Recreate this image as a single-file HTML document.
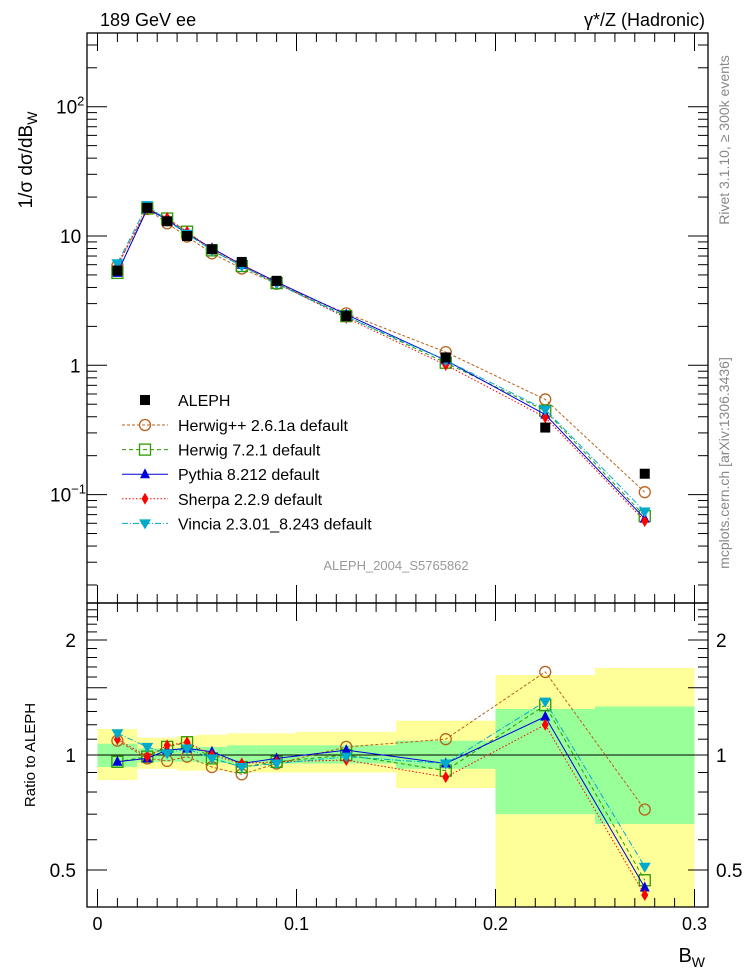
<!DOCTYPE html>
<html><head><meta charset="utf-8"><style>
body{margin:0;background:#fff;}
svg{display:block;font-family:"Liberation Sans",sans-serif;}
</style></head><body>
<svg id="plot" width="746" height="972" xmlns="http://www.w3.org/2000/svg">
<defs><clipPath id="lowclip"><rect x="87" y="603" width="621" height="304"/></clipPath></defs>
<text x="100" y="26" font-size="18">189 GeV ee</text>
<text x="705" y="26" font-size="18" text-anchor="end">γ*/Z (Hadronic)</text>
<text transform="translate(729,140) rotate(-90)" font-size="14" fill="#888" text-anchor="middle">Rivet 3.1.10, ≥ 300k events</text>
<text transform="translate(729,463) rotate(-90)" font-size="14" fill="#888" text-anchor="middle">mcplots.cern.ch [arXiv:1306.3436]</text>
<text transform="translate(32,160) rotate(-90)" font-size="19" text-anchor="middle">1/σ  dσ/dB<tspan font-size="14" dy="5">W</tspan></text>
<text transform="translate(35,755) rotate(-90)" font-size="15" text-anchor="middle">Ratio to ALEPH</text>
<text x="705" y="962" font-size="20" text-anchor="end">B<tspan font-size="14" dy="5">W</tspan></text>
<text x="396" y="570" font-size="13" fill="#999" text-anchor="middle">ALEPH_2004_S5765862</text>
<g id="bands" clip-path="url(#lowclip)"></g><g id="ticks"></g><g id="series"></g><g id="legend"></g>
</svg>
<script>
const edges=[0,0.02,0.03,0.04,0.05,0.065,0.08,0.1,0.15,0.2,0.25,0.3];
const centers=[0.01,0.025,0.035,0.045,0.0575,0.0725,0.09,0.125,0.175,0.225,0.275];
const aleph=[5.4,16.5,13,10,7.9,6.3,4.5,2.4,1.15,0.33,0.145];
const statLo=[0.93,0.96,0.96,0.96,0.955,0.95,0.95,0.95,0.92,0.70,0.66];
const statHi=[1.07,1.04,1.04,1.045,1.05,1.06,1.06,1.06,1.09,1.32,1.34];
const totLo=[0.86,0.92,0.92,0.91,0.91,0.9,0.9,0.9,0.82,0.3,0.3];
const totHi=[1.17,1.11,1.11,1.12,1.13,1.14,1.14,1.15,1.23,1.62,1.69];
const rHerwigpp=[1.09,0.98,0.965,0.99,0.93,0.89,0.95,1.05,1.10,1.65,0.72];
const rHerwig7=[0.96,0.99,1.05,1.08,0.98,0.93,0.96,1.0,0.91,1.35,0.47];
const rPythia=[0.96,0.98,1.03,1.04,1.02,0.95,0.98,1.03,0.95,1.26,0.45];
const rSherpa=[1.10,0.99,1.06,1.08,1.0,0.95,0.96,0.97,0.875,1.20,0.43];
const rVincia=[1.14,1.05,1.01,1.04,0.98,0.93,0.95,0.99,0.95,1.38,0.51];
const NS="http://www.w3.org/2000/svg";
const L=87,R=708,T=33,MID=603,B=907;
const X=v=>97.5+v*1990;
const Y=v=>236-(Math.log10(v)-1)*129.3;
const RY=v=>755-Math.log10(v)*382;
function mk(tag,at,parent){const e=document.createElementNS(NS,tag);for(const k in at)e.setAttribute(k,at[k]);document.getElementById(parent).appendChild(e);return e;}
for(let i=0;i<centers.length;i++){
 const x0=X(edges[i]),x1=X(edges[i+1]);
 const yb=mk('rect',{x:x0,y:RY(totHi[i]),width:x1-x0,height:RY(totLo[i])-RY(totHi[i]),fill:'#ffff99'},'bands');
 
 
 const gb=mk('rect',{x:x0,y:RY(statHi[i]),width:x1-x0,height:RY(statLo[i])-RY(statHi[i]),fill:'#99ff99'},'bands');
 
 
}
mk('line',{x1:L,x2:R,y1:RY(1),y2:RY(1),stroke:'#000','stroke-width':1},'bands');
mk('rect',{x:L,y:T,width:R-L,height:MID-T,fill:'none',stroke:'#000','stroke-width':1.3},'ticks');
mk('rect',{x:L,y:MID,width:R-L,height:B-MID,fill:'none',stroke:'#000','stroke-width':1.3},'ticks');
for(let k=0;k<=30;k++){const v=k/100,x=X(v),mj=k%10==0,len=mj?18:9;
 [[T,1],[MID,1],[MID,-1],[B,-1]].forEach(([y,d])=>mk('line',{x1:x,x2:x,y1:y,y2:y+d*len,stroke:'#000'},'ticks'));
 if(mj){const t=mk('text',{x:x,y:930,'font-size':18,'text-anchor':'middle'},'ticks');t.textContent=k==0?'0':(v).toFixed(1);}
}
for(let e=-2;e<=2;e++)for(let m=1;m<10;m++){const v=m*Math.pow(10,e),y=Y(v);if(y<T||y>MID)continue;
 const len=m==1?20:10;mk('line',{x1:L,x2:L+len,y1:y,y2:y,stroke:'#000'},'ticks');mk('line',{x1:R,x2:R-len,y1:y,y2:y,stroke:'#000'},'ticks');}
[[100,'10','2'],[10,'10',''],[1,'1',''],[0.1,'10','−1']].forEach(([v,b,s])=>{const t=mk('text',{x:s=='2'?56:(s?50:(b=='1'?70:60)),y:Y(v)+7,'font-size':19},'ticks');t.textContent=b;if(s){const ts=document.createElementNS(NS,'tspan');ts.setAttribute('dy','-8');ts.setAttribute('font-size','13');ts.textContent=s;t.appendChild(ts);}});
for(let k=3;k<=24;k++){const v=k/10,y=RY(v);if(y<MID||y>B)continue;const mj=(v==0.5||v==1||v==1.5||v==2);const len=mj?20:10;
 mk('line',{x1:L,x2:L+len,y1:y,y2:y,stroke:'#000'},'ticks');mk('line',{x1:R,x2:R-len,y1:y,y2:y,stroke:'#000'},'ticks');}
[[0.5,'0.5'],[1,'1'],[2,'2']].forEach(([v,s])=>{const a=mk('text',{x:76,y:RY(v)+7,'font-size':19,'text-anchor':'end'},'ticks');a.textContent=s;const b=mk('text',{x:716,y:RY(v)+7,'font-size':19},'ticks');b.textContent=s;});
const mcs=[
 {name:'herwigpp',label:'Herwig++ 2.6.1a default',r:rHerwigpp,c:'#b8621b',dash:'3,2',m:'circle'},
 {name:'herwig7',label:'Herwig 7.2.1 default',r:rHerwig7,c:'#2a9a00',dash:'4,3',m:'square'},
 {name:'pythia',label:'Pythia 8.212 default',r:rPythia,c:'#0000dd',dash:'',m:'tri'},
 {name:'sherpa',label:'Sherpa 2.2.9 default',r:rSherpa,c:'#ff0000',dash:'1.5,2',m:'diamond'},
 {name:'vincia',label:'Vincia 2.3.01_8.243 default',r:rVincia,c:'#00aacc',dash:'6,2,1,2',m:'itri'}];
function marker(type,x,y,c,g,name){let e;
 if(type=='circle')e=mk('circle',{cx:x,cy:y,r:5.5,fill:'none',stroke:c,'stroke-width':1.3},g);
 else if(type=='square')e=mk('rect',{x:x-5.5,y:y-5.5,width:11,height:11,fill:'none',stroke:c,'stroke-width':1.3},g);
 else if(type=='fsquare')e=mk('rect',{x:x-5,y:y-5,width:10,height:10,fill:c},g);
 else if(type=='tri')e=mk('polygon',{points:`${x},${y-6} ${x-5},${y+4} ${x+5},${y+4}`,fill:c},g);
 else if(type=='itri')e=mk('polygon',{points:`${x},${y+6} ${x-6},${y-4} ${x+6},${y-4}`,fill:c},g);
 else e=mk('polygon',{points:`${x},${y-6} ${x-3.5},${y} ${x},${y+6} ${x+3.5},${y}`,fill:c},g);
 
 return e;}
mcs.forEach(s=>{
 const up=centers.map((c,i)=>[X(c),Y(aleph[i]*s.r[i])]);
 const lo=centers.map((c,i)=>[X(c),RY(s.r[i])]);
 [up,lo].forEach((pts,j)=>{const p=mk('polyline',{points:pts.map(p=>p.join(',')).join(' '),fill:'none',stroke:s.c,'stroke-width':1,'stroke-dasharray':s.dash},'series');
  
  
  pts.forEach(q=>marker(s.m,q[0],q[1],s.c,'series',s.name+'-point'));});
});
centers.forEach((c,i)=>marker('fsquare',X(c),Y(aleph[i]),'#000','series','aleph-point'));
const lt=mk('text',{x:178,y:406,'font-size':16},'legend');lt.textContent='ALEPH';
marker('fsquare',145,400,'#000','legend','legend-aleph-marker');
mcs.forEach((s,i)=>{const y=425+i*24.6;
 mk('line',{x1:122,x2:168,y1:y,y2:y,stroke:s.c,'stroke-dasharray':s.dash},'legend');
 marker(s.m,145,y,s.c,'legend','legend-'+s.name+'-marker');
 const t=mk('text',{x:178,y:y+6,'font-size':16},'legend');t.textContent=s.label;
 
 });
</script>
</body></html>
